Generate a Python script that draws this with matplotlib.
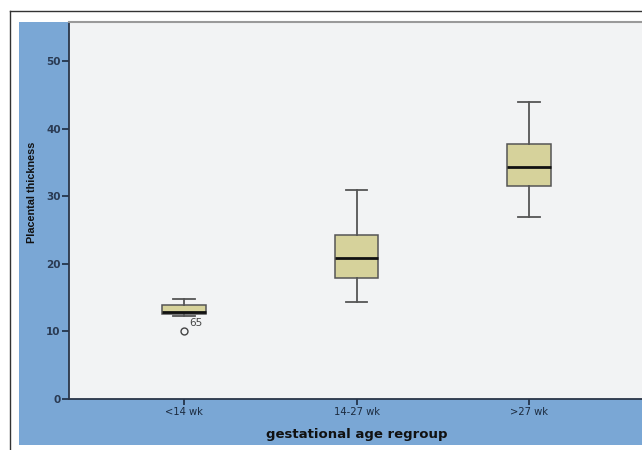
import matplotlib
matplotlib.use("Agg")
import matplotlib.pyplot as plt
from matplotlib.patches import Rectangle
from matplotlib.lines import Line2D

categories = ["<14 wk", "14-27 wk", ">27 wk"]
whislo = [12.3, 14.3, 26.9]
q1 = [12.6, 17.9, 31.6]
med = [12.9, 20.9, 34.4]
q3 = [13.9, 24.3, 37.8]
whishi = [14.8, 30.9, 43.9]
fliers = [[10.05], [], []]
outlier_labels = ["65", "", ""]
y_ticks = [0, 10, 20, 30, 40, 50]

W, H = 642, 450
fig = plt.figure(figsize=(W / 100, H / 100), dpi=100)
fig.patch.set_facecolor("white")

# blue chart panel
fig.add_artist(Rectangle((19 / W, 1 - 445 / H), 1.0, (445 - 22) / H,
                         transform=fig.transFigure, facecolor="#7aa7d5",
                         edgecolor="none", zorder=0))
# outer frame
fig.add_artist(Line2D([9.5 / W, 9.5 / W], [0, 1 - 10.5 / H], transform=fig.transFigure,
                      color="#333333", lw=1.0))
fig.add_artist(Line2D([9.5 / W, 1], [1 - 10.5 / H, 1 - 10.5 / H], transform=fig.transFigure,
                      color="#333333", lw=1.0))

ax = fig.add_axes([69 / W, 1 - 399 / H, (644 - 69) / W, (399 - 22) / H])
ax.set_facecolor("#f2f3f4")

stats = []
for i in range(len(categories)):
    stats.append(dict(whislo=whislo[i], q1=q1[i], med=med[i], q3=q3[i],
                      whishi=whishi[i], fliers=fliers[i], label=categories[i]))

pos = list(range(1, len(categories) + 1))
ax.bxp(stats, positions=pos, widths=0.255, patch_artist=True,
       boxprops=dict(facecolor="#d6d29b", edgecolor="#555555", linewidth=1.1),
       medianprops=dict(color="#111111", linewidth=2.0),
       whiskerprops=dict(color="#555555", linewidth=1.3),
       capprops=dict(color="#555555", linewidth=1.3),
       capwidths=0.125,
       flierprops=dict(marker="o", markerfacecolor="none", markeredgecolor="#444444",
                       markersize=5, markeredgewidth=1.0))

for i, lab in enumerate(outlier_labels):
    if lab:
        ax.annotate(lab, (pos[i], fliers[i][0]), xytext=(4, 2), textcoords="offset points",
                    fontsize=7.5, color="#444444", family="DejaVu Sans", ha="left", va="bottom")

ax.set_xlim(0.333, 3.667)
ax.set_ylim(0, 55.8)
ax.set_yticks(y_ticks)
ax.set_yticklabels([str(t) for t in y_ticks])
ax.set_xticks(pos)
ax.set_xticklabels(categories)

for lab in ax.get_yticklabels():
    lab.set_fontsize(7.5)
    lab.set_fontweight("bold")
    lab.set_color("#2a3a52")
    lab.set_family("DejaVu Sans")
for lab in ax.get_xticklabels():
    lab.set_fontsize(7.2)
    lab.set_color("#1c2b3f")
    lab.set_family("DejaVu Sans")

ax.tick_params(axis="y", direction="out", length=5, width=1.2, color="#1c2b3f", pad=1)
ax.tick_params(axis="x", direction="out", length=4, width=1.2, color="#1c2b3f", pad=2)

for s in ["left", "bottom"]:
    ax.spines[s].set_color("#2a3548")
    ax.spines[s].set_linewidth(1.3)
ax.spines["top"].set_color("#9a9a9a")
ax.spines["top"].set_linewidth(1.5)
ax.spines["right"].set_color("#d0d0d0")

ax.set_xlabel("gestational age regroup", fontsize=9.5, fontweight="bold",
              family="DejaVu Sans", color="#111111", labelpad=8)
ax.set_ylabel("Placental thickness", fontsize=7.8, fontweight="bold",
              family=["Liberation Sans Narrow", "Liberation Sans"], color="#111111")
ax.yaxis.set_label_coords((37 - 69) / (644 - 69), (399 - 192) / (399 - 22))

fig.savefig("out.png", dpi=100, facecolor=fig.get_facecolor())
